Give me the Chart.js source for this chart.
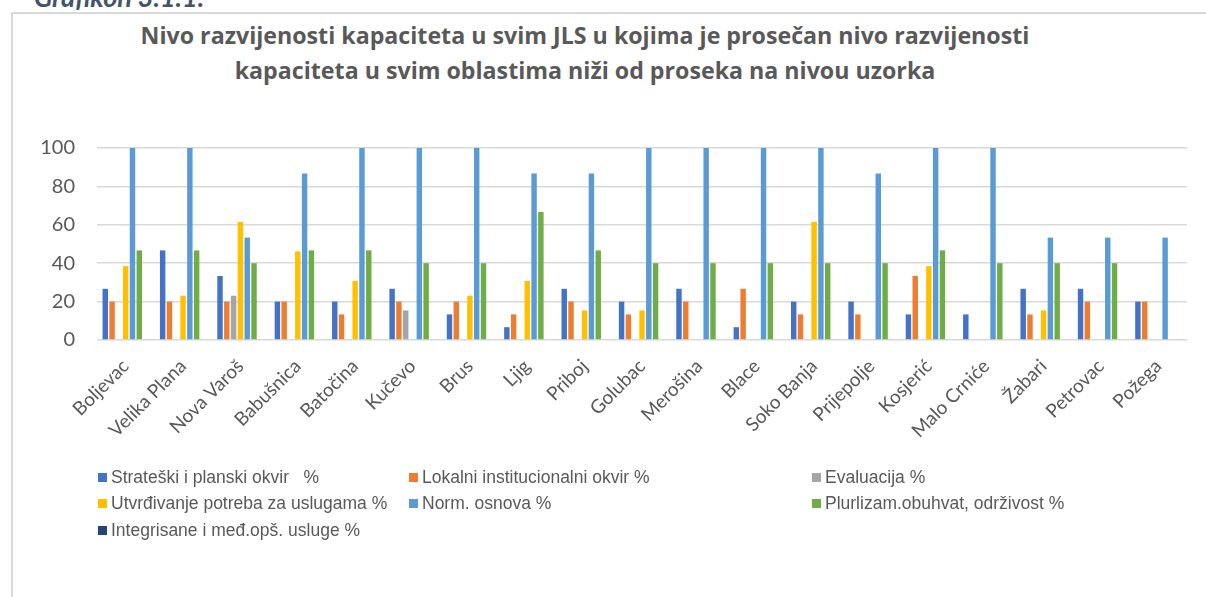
<!DOCTYPE html>
<html>
<head>
<meta charset="utf-8">
<script src="https://cdn.jsdelivr.net/npm/chart.js@4.4.1/dist/chart.umd.min.js"></script>
<style>
  html, body { margin: 0; padding: 0; background: #ffffff; }
  body { width: 1206px; height: 597px; position: relative; overflow: hidden; }
  #frame { position: absolute; left: 11px; top: 12px; width: 1200px; height: 600px;
           border-left: 2px solid #d9d9d9; border-top: 2px solid #d9d9d9; box-sizing: border-box; }
  #caption { position: absolute; left: 34px; top: -17px; font-family: Lato, sans-serif; font-style: italic;
             font-weight: bold; font-size: 27px; line-height: 27px; color: #44546a; white-space: nowrap; }
  #title { position: absolute; left: 0; width: 1170px; top: 18px; text-align: center; font-family: "Open Sans", sans-serif;
           font-weight: bold; font-size: 23.2px; line-height: 35px; color: #595959; }
  #c { position: absolute; left: 0; top: 0; }
  #legend { position: absolute; left: 0; top: 0; font-family: "Liberation Sans", Arial, sans-serif; font-size: 17.5px; color: #595959; }
  .li { position: absolute; white-space: pre; line-height: 20px; }
  .sw { display: inline-block; width: 9px; height: 9px; margin-right: 4px; vertical-align: 1px; }
</style>
</head>
<body>
<div id="frame"></div>
<div id="caption">Grafikon 3.1.1.</div>
<div id="title">Nivo razvijenosti kapaciteta u svim JLS u kojima je prosečan nivo razvijenosti<br>kapaciteta u svim oblastima niži od proseka na nivou uzorka</div>
<canvas id="c" width="1206" height="597"></canvas>
<div id="legend"></div>
<script>
const categories = ["Boljevac", "Velika Plana", "Nova Varoš", "Babušnica", "Batočina", "Kučevo", "Brus", "Ljig", "Priboj", "Golubac", "Merošina", "Blace", "Soko Banja", "Prijepolje", "Kosjerić", "Malo Crniće", "Žabari", "Petrovac", "Požega"];
const yTicks = [0, 20, 40, 60, 80, 100];

const seriesNames = ["Strateški i planski okvir   %", "Lokalni institucionalni okvir %", "Evaluacija %", "Utvrđivanje potreba za uslugama %", "Norm. osnova %", "Plurlizam.obuhvat, održivost %", "Integrisane i međ.opš. usluge %"];

const strateski    = [26.67, 46.67, 33.33, 20, 20, 26.67, 13.33, 6.67, 26.67, 20, 26.67, 6.67, 20, 20, 13.33, 13.33, 26.67, 26.67, 20];
const lokalni      = [20, 20, 20, 20, 13.33, 20, 20, 13.33, 20, 13.33, 20, 26.67, 13.33, 13.33, 33.33, 0, 13.33, 20, 20];
const evaluacija   = [0, 0, 23.08, 0, 0, 15.38, 0, 0, 0, 0, 0, 0, 0, 0, 0, 0, 0, 0, 0];
const utvrdjivanje = [38.46, 23.08, 61.54, 46.15, 30.77, 0, 23.08, 30.77, 15.38, 15.38, 0, 0, 61.54, 0, 38.46, 0, 15.38, 0, 0];
const normOsnova   = [100, 100, 53.33, 86.67, 100, 100, 100, 86.67, 86.67, 100, 100, 100, 100, 86.67, 100, 100, 53.33, 53.33, 53.33];
const pluralizam   = [46.67, 46.67, 40, 46.67, 46.67, 40, 40, 66.67, 46.67, 40, 40, 40, 40, 40, 46.67, 40, 40, 40, 0];
const integrisane  = [0, 0, 0, 0, 0, 0, 0, 0, 0, 0, 0, 0, 0, 0, 0, 0, 0, 0, 0];

const seriesValues = [strateski, lokalni, evaluacija, utvrdjivanje, normOsnova, pluralizam, integrisane];
const seriesColors = ["#4472C4", "#ED7D31", "#A5A5A5", "#FFC000", "#5B9BD5", "#70AD47", "#264478"];

const datasets = seriesNames.map((n, i) => ({
  label: n,
  data: seriesValues[i],
  backgroundColor: seriesColors[i],
  borderWidth: 0,
  categoryPercentage: 0.83,
  barPercentage: 0.8
}));

new Chart(document.getElementById('c'), {
  type: 'bar',
  data: { labels: categories, datasets: datasets },
  options: {
    responsive: false,
    animation: false,
    layout: { padding: { left: 0, right: 19, top: 148, bottom: 137 } },
    plugins: { legend: { display: false }, title: { display: false }, tooltip: { enabled: false } },
    scales: {
      x: {
        grid: { display: false },
        border: { display: false },
        ticks: {
          autoSkip: false, minRotation: 45, maxRotation: 45, padding: 7,
          color: '#595959', font: { family: 'Lato', size: 19 }
        },
        afterFit: (s) => { s.height = 120; }
      },
      y: {
        min: 0, max: 100,
        afterBuildTicks: (s) => { s.ticks = yTicks.map(v => ({ value: v })); },
        grid: { color: '#d9d9d9', lineWidth: 1.5, drawTicks: false },
        border: { display: false },
        ticks: { padding: 22, color: '#595959', font: { family: 'Lato', size: 20 } },
        afterFit: (s) => { s.width = 97; }
      }
    }
  }
});

// legend in 3 columns
const legendCols = [98, 409, 812];
const legendRows = [467, 493, 520];
const lg = document.getElementById('legend');
seriesNames.forEach((n, i) => {
  const d = document.createElement('div');
  d.className = 'li';
  d.style.left = legendCols[i % 3] + 'px';
  d.style.top = legendRows[Math.floor(i / 3)] + 'px';
  d.innerHTML = '<span class="sw" style="background:' + seriesColors[i] + '"></span>' + n;
  lg.appendChild(d);
});
</script>
</body>
</html>
